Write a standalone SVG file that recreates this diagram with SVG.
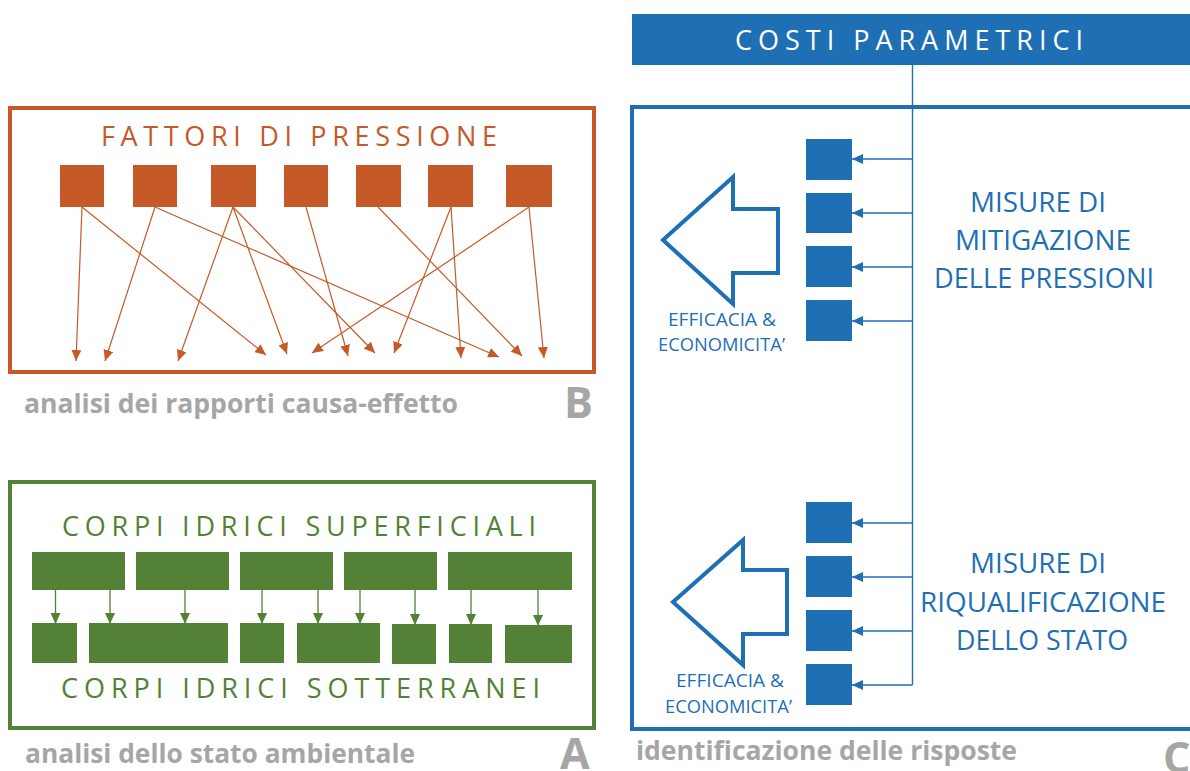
<svg xmlns="http://www.w3.org/2000/svg" width="1190" height="771" viewBox="0 0 1190 771">
<style>
text{font-family:"Open Sans","Liberation Sans",sans-serif}
.or{fill:#C55A28}
.gr{fill:#538135}
.bl{fill:#1F6FB5}
.cap{fill:#A6A6A6;font-weight:bold;font-size:27px}
.big{fill:#A6A6A6;font-weight:bold;font-size:43px}
.ttl{font-size:27px}
.mis{fill:#1F6FB5;font-size:27px}
.eff{fill:#1F6FB5;font-size:18.5px}
.lo{stroke:#C55A28;stroke-width:1.2;fill:none}
.lg{stroke:#538135;stroke-width:1.3;fill:none}
.lb{stroke:#1F6FB5;stroke-width:1.4;fill:none}
</style>
<defs>
<marker id="ao" markerUnits="userSpaceOnUse" markerWidth="12" markerHeight="10" refX="11" refY="5" orient="auto"><path d="M0,0 L11,5 L0,10 Z" fill="#C55A28"/></marker>
<marker id="ag" markerUnits="userSpaceOnUse" markerWidth="12" markerHeight="10" refX="11" refY="5" orient="auto"><path d="M0,0 L11,5 L0,10 Z" fill="#538135"/></marker>
<marker id="ab" markerUnits="userSpaceOnUse" markerWidth="12" markerHeight="10" refX="11" refY="5" orient="auto"><path d="M0,0 L11,5 L0,10 Z" fill="#1F6FB5"/></marker>
</defs>
<rect width="1190" height="771" fill="#fff"/>

<!-- B panel -->
<g id="panelB">
<rect x="10" y="108" width="584" height="264" fill="none" stroke="#C55A28" stroke-width="4"/>
<text class="ttl or" x="101" y="146" textLength="396" lengthAdjust="spacing">FATTORI DI PRESSIONE</text>
<text class="cap" x="24" y="413" textLength="434" lengthAdjust="spacingAndGlyphs">analisi dei rapporti causa-effetto</text>
<text class="big" x="564" y="418">B</text>
</g>
<g id="pressioni" class="or">
<rect id="p1" x="60" y="165" width="44" height="42"/>
<rect id="p2" x="133" y="165" width="44" height="42"/>
<rect id="p3" x="211" y="165" width="45" height="42"/>
<rect id="p4" x="284" y="165" width="44" height="42"/>
<rect id="p5" x="356" y="165" width="45" height="42"/>
<rect id="p6" x="428" y="165" width="45" height="42"/>
<rect id="p7" x="506" y="165" width="46" height="42"/>
</g>

<!-- A panel -->
<g id="panelA">
<rect x="10" y="482" width="584" height="246" fill="none" stroke="#538135" stroke-width="4"/>
<text class="ttl gr" x="62" y="536" textLength="474" lengthAdjust="spacing">CORPI IDRICI SUPERFICIALI</text>
<text class="ttl gr" x="61" y="698" textLength="479" lengthAdjust="spacing">CORPI IDRICI SOTTERRANEI</text>
<text class="cap" x="25" y="763" textLength="390" lengthAdjust="spacingAndGlyphs">analisi dello stato ambientale</text>
<text class="big" x="560" y="769">A</text>
</g>
<g id="superficiali" class="gr">
<rect x="32" y="552" width="93" height="38"/>
<rect x="136" y="552" width="93" height="38"/>
<rect x="240" y="552" width="93" height="38"/>
<rect x="344" y="552" width="93" height="38"/>
<rect x="448" y="552" width="124" height="38"/>
</g>
<g id="sotterranei" class="gr">
<rect x="32" y="623" width="45" height="40"/>
<rect x="89" y="623" width="139" height="40"/>
<rect x="240" y="623" width="44" height="40"/>
<rect x="297" y="623" width="83" height="40"/>
<rect x="392" y="624" width="44" height="40"/>
<rect x="449" y="624" width="43" height="39"/>
<rect x="505" y="625" width="67" height="38"/>
</g>

<!-- C panel -->
<g id="costi">
<rect x="632" y="14" width="570" height="51" fill="#1F6FB5"/>
<text class="ttl" fill="#fff" x="735" y="50" textLength="348" lengthAdjust="spacing">COSTI PARAMETRICI</text>
</g>
<g id="panelC">
<rect x="632" y="107" width="600" height="622" fill="none" stroke="#1F6FB5" stroke-width="4"/>
<text class="cap" x="636" y="760" textLength="381" lengthAdjust="spacingAndGlyphs">identificazione delle risposte</text>
<text class="big" x="1163" y="773">C</text>
</g>
<g id="mitigazione">
<rect class="bl" x="806" y="139" width="46" height="41"/>
<rect class="bl" x="806" y="193" width="46" height="40"/>
<rect class="bl" x="806" y="246" width="46" height="41"/>
<rect class="bl" x="806" y="300" width="46" height="41"/>
<polygon points="663,240 733,177 733,209 778,209 778,273 733,273 733,304" fill="#fff" stroke="#1F6FB5" stroke-width="4" stroke-linejoin="miter"/>
<text class="eff" x="668" y="326" textLength="108" lengthAdjust="spacingAndGlyphs">EFFICACIA &amp;</text>
<text class="eff" x="658" y="351" textLength="127" lengthAdjust="spacingAndGlyphs">ECONOMICITA’</text>
<text class="mis" x="970" y="212" textLength="136" lengthAdjust="spacingAndGlyphs">MISURE DI</text>
<text class="mis" x="955" y="250" textLength="176" lengthAdjust="spacingAndGlyphs">MITIGAZIONE</text>
<text class="mis" x="934" y="288" textLength="220" lengthAdjust="spacingAndGlyphs">DELLE PRESSIONI</text>
</g>
<g id="riqualificazione">
<rect class="bl" x="806" y="502" width="46" height="41"/>
<rect class="bl" x="806" y="556" width="46" height="41"/>
<rect class="bl" x="806" y="610" width="46" height="41"/>
<rect class="bl" x="806" y="664" width="46" height="41"/>
<polygon points="673,602 743,540 743,570 787,570 787,634 743,634 743,665" fill="#fff" stroke="#1F6FB5" stroke-width="4" stroke-linejoin="miter"/>
<text class="eff" x="676" y="687" textLength="108" lengthAdjust="spacingAndGlyphs">EFFICACIA &amp;</text>
<text class="eff" x="665" y="713" textLength="127" lengthAdjust="spacingAndGlyphs">ECONOMICITA’</text>
<text class="mis" x="970" y="573" textLength="136" lengthAdjust="spacingAndGlyphs">MISURE DI</text>
<text class="mis" x="920" y="612" textLength="246" lengthAdjust="spacingAndGlyphs">RIQUALIFICAZIONE</text>
<text class="mis" x="956" y="650" textLength="172" lengthAdjust="spacingAndGlyphs">DELLO STATO</text>
</g>

<g id="connectors">
<g class="lo" marker-end="url(#ao)">
<line x1="82" y1="207" x2="76" y2="361"/>
<line x1="82" y1="207" x2="266" y2="355"/>
<line x1="155" y1="207" x2="105" y2="361"/>
<line x1="155" y1="207" x2="499" y2="357"/>
<line x1="233" y1="207" x2="178" y2="361"/>
<line x1="233" y1="207" x2="287" y2="354"/>
<line x1="233" y1="207" x2="375" y2="353"/>
<line x1="306" y1="207" x2="348" y2="356"/>
<line x1="378" y1="207" x2="522" y2="356"/>
<line x1="451" y1="207" x2="394" y2="353"/>
<line x1="451" y1="207" x2="461" y2="358"/>
<line x1="529" y1="207" x2="312" y2="353"/>
<line x1="529" y1="207" x2="544" y2="358"/>
</g>
<g class="lg" marker-end="url(#ag)">
<line x1="55.5" y1="590" x2="55.5" y2="624"/>
<line x1="110" y1="590" x2="110" y2="624"/>
<line x1="185" y1="590" x2="185" y2="624"/>
<line x1="262" y1="590" x2="262" y2="624"/>
<line x1="318" y1="590" x2="318" y2="624"/>
<line x1="360" y1="590" x2="360" y2="624"/>
<line x1="415" y1="590" x2="415" y2="625"/>
<line x1="471" y1="590" x2="471" y2="625"/>
<line x1="538" y1="590" x2="538" y2="626"/>
</g>
<line class="lb" x1="912.5" y1="65" x2="912.5" y2="685"/>
<g class="lb" marker-end="url(#ab)">
<line x1="912.5" y1="159" x2="852" y2="159"/>
<line x1="912.5" y1="213" x2="852" y2="213"/>
<line x1="912.5" y1="267" x2="852" y2="267"/>
<line x1="912.5" y1="321" x2="852" y2="321"/>
<line x1="912.5" y1="523" x2="852" y2="523"/>
<line x1="912.5" y1="577" x2="852" y2="577"/>
<line x1="912.5" y1="631" x2="852" y2="631"/>
<line x1="912.5" y1="685" x2="852" y2="685"/>
</g>
</g>
</svg>
